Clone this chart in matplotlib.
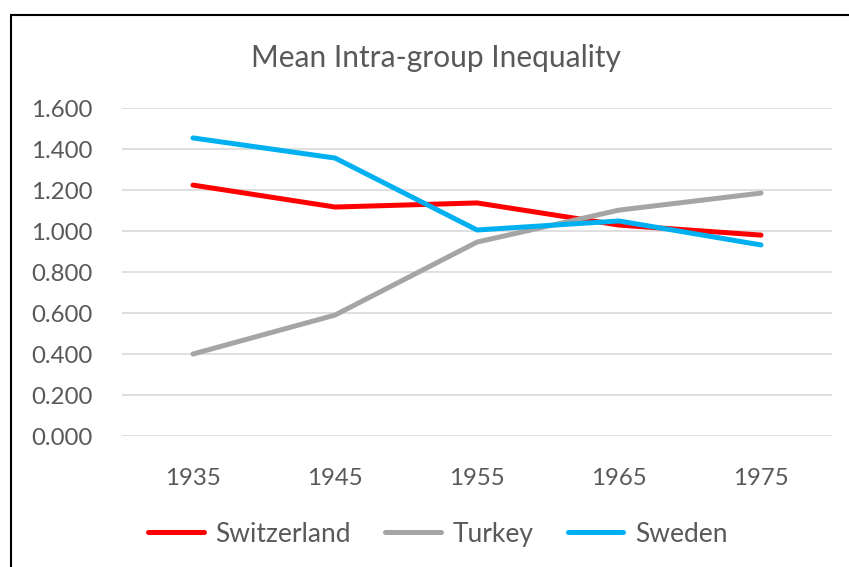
import matplotlib
matplotlib.use("Agg")
from matplotlib import pyplot as plt
from matplotlib.patches import Rectangle
from matplotlib.ticker import FormatStrFormatter

years = ['1935', '1945', '1955', '1965', '1975']
switzerland = [1.224, 1.117, 1.137, 1.029, 0.980]
turkey = [0.400, 0.590, 0.946, 1.102, 1.185]
sweden = [1.454, 1.356, 1.005, 1.049, 0.932]

text_color = '#595959'
plt.rcParams['font.family'] = ['Lato', 'DejaVu Sans']

fig = plt.figure(figsize=(8.49, 5.67), dpi=100)
ax = fig.add_axes([0.1437, 0.231, 0.8363, 0.5785])

x = range(len(years))
ax.plot(x, switzerland, color='#FF0000', lw=3.6, solid_capstyle='round', label='Switzerland')
ax.plot(x, turkey, color='#A5A5A5', lw=3.6, solid_capstyle='round', label='Turkey')
ax.plot(x, sweden, color='#00B0F0', lw=3.6, solid_capstyle='round', label='Sweden')

ax.set_xlim(-0.5, len(years) - 0.5)
ax.set_ylim(0, 1.6)
ax.set_yticks([0, 0.2, 0.4, 0.6, 0.8, 1.0, 1.2, 1.4, 1.6])
ax.yaxis.set_major_formatter(FormatStrFormatter('%.3f'))
ax.set_xticks(list(x))
ax.set_xticklabels(years)
ax.grid(axis='y', color='#D9D9D9', lw=1.2)
ax.set_axisbelow(True)
for s in ax.spines.values():
    s.set_visible(False)
ax.tick_params(axis='both', length=0, labelsize=17.3, colors=text_color)
ax.tick_params(axis='y', pad=21)
ax.tick_params(axis='x', pad=23)

fig.text(0.514, 0.898, 'Mean Intra-group Inequality', ha='center', va='center',
         fontsize=21.5, color=text_color)

leg = fig.legend(loc='center', bbox_to_anchor=(0.516, 0.058), ncol=3, frameon=False,
                 fontsize=19, handlelength=2.1, columnspacing=1.3, handletextpad=0.45)
for t in leg.get_texts():
    t.set_color(text_color)

fig.patches.append(Rectangle((10.5 / 849, -0.1), 1.2, 1 - 14.5 / 567 + 0.1,
                             transform=fig.transFigure, fill=False,
                             edgecolor='black', lw=1.5))

fig.savefig('out.png', dpi=100)
